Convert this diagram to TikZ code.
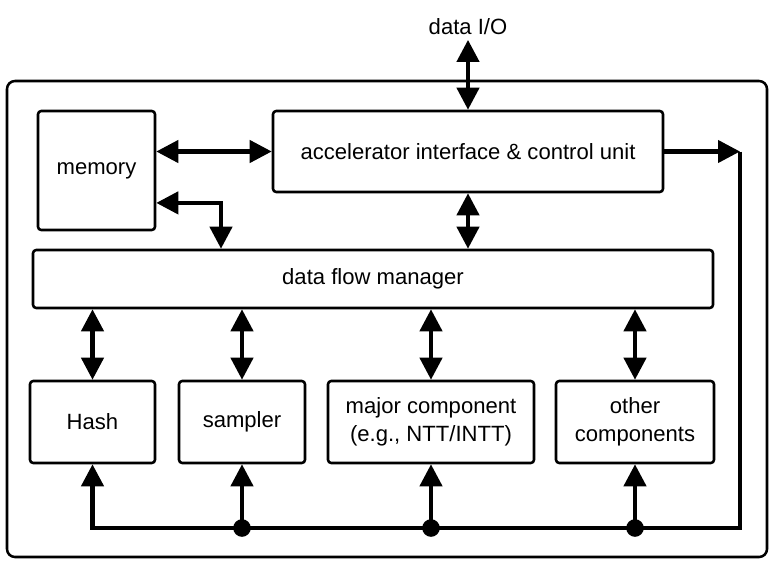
\documentclass[tikz,border=0pt]{standalone}
\usepackage{fontspec}
\setmainfont{Liberation Sans}
\usetikzlibrary{arrows.meta}

\begin{document}
\begin{tikzpicture}[
    font=\fontsize{15.7}{20}\selectfont,
    blk/.style={draw, line width=1.8pt, rounded corners=0.08cm, align=center, inner sep=0pt},
    link/.style={line width=3pt, {Triangle[length=0.55cm,width=0.55cm]}-{Triangle[length=0.55cm,width=0.55cm]}},
    feed/.style={line width=3pt, -{Triangle[length=0.55cm,width=0.55cm]}}]
  \useasboundingbox (0,0) rectangle (19.35,14.1);
  \draw[line width=1.8pt, rounded corners=0.2cm] (0.175,0.175) rectangle (19.175,12.075);
  \node[blk, minimum width=2.925cm, minimum height=2.975cm] (mem) at (2.4125,9.8375) {memory};
  \node[blk, minimum width=9.75cm, minimum height=2.025cm] (acc) at (11.7,10.3125) {accelerator interface \& control unit};
  \node[blk, minimum width=17cm, minimum height=1.45cm] (dfm) at (9.325,7.125) {data flow manager};
  \node (io) at (11.7,13.43) {data I/O};
  \node[blk, minimum width=3.125cm, minimum height=2.05cm] (hash) at (2.3125,3.55) {Hash};
  \node[blk, minimum width=3.15cm, minimum height=2.05cm] (samp) at (6.05,3.55) {sampler};
  \node[blk, minimum width=5.15cm, minimum height=2.05cm] (major) at (10.775,3.55) {major component\\(e.g., NTT/INTT)};
  \node[blk, minimum width=3.95cm, minimum height=2.05cm] (other) at (15.875,3.55) {other\\components};
  \coordinate (corner) at (18.5,0.9);
  \draw[link] (acc.north) -- (io.south);
  \draw[link] (mem.east |- acc.west) -- (acc.west);
  \draw[link] ([yshift=-0.81cm]mem.east) -| ([xshift=-3.8cm]dfm.north);
  \draw[link] (acc.south) -- (acc.south |- dfm.north);
  \foreach \b in {hash,samp,major,other}
    \draw[link] (\b.north) -- (\b.north |- dfm.south);
  \draw[feed] (acc.east) -- (acc.east -| corner);
  \draw[feed] (acc.east -| corner) -- (corner) -- (corner -| hash.south) -- (hash.south);
  \foreach \b in {samp,major,other}{
    \draw[feed] (corner -| \b.south) -- (\b.south);
    \fill (corner -| \b.south) circle (0.22cm);
  }
\end{tikzpicture}
\end{document}
